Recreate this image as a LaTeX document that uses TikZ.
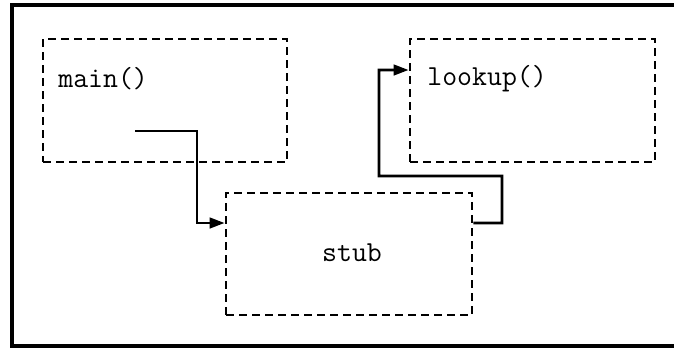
\documentclass[tikz,border=0pt]{standalone}
\usetikzlibrary{arrows.meta}
\begin{document}
\begin{tikzpicture}[x=0.02cm,y=-0.02cm,
  frame/.style={line width=2pt},
  region/.style={draw,line width=1.6pt,dash pattern=on 4.4pt off 3pt,
    rectangle,inner sep=0pt},
  label/.style={font=\fontsize{16.5}{20}\selectfont\ttfamily,inner sep=0pt},
  flow/.style={line width=1.5pt,-{Triangle[length=8.5pt,width=6pt]}}]
\useasboundingbox (0,0) rectangle (674,348);
% outer frame (open on the right)
\draw[frame] (674,5) -- (12,5) -- (12,346) -- (674,346);
% regions
\node[region,minimum width=244*0.02cm,minimum height=123*0.02cm] (main) at (165,100.5) {};
\node[region,minimum width=245*0.02cm,minimum height=123*0.02cm] (lookup) at (532.5,100.5) {};
\node[region,minimum width=246*0.02cm,minimum height=122*0.02cm] (stub) at (349,254) {};
% texts
\node[label,anchor=west] (maintxt) at (58,79) {main()};
\node[label,anchor=west] (lookuptxt) at (427,79) {lookup()};
\node[label] (stubtxt) at (352,253) {stub};
% connectors
\coordinate (call) at (135,131);
\draw[flow] (call) -- (197,131) |- ([yshift=0.62cm]stub.west);
\draw[flow] ([yshift=0.62cm]stub.east) -- (502,223) -- (502,176) -- (379,176)
  |- ([yshift=0.61cm]lookup.west);
\end{tikzpicture}
\end{document}
